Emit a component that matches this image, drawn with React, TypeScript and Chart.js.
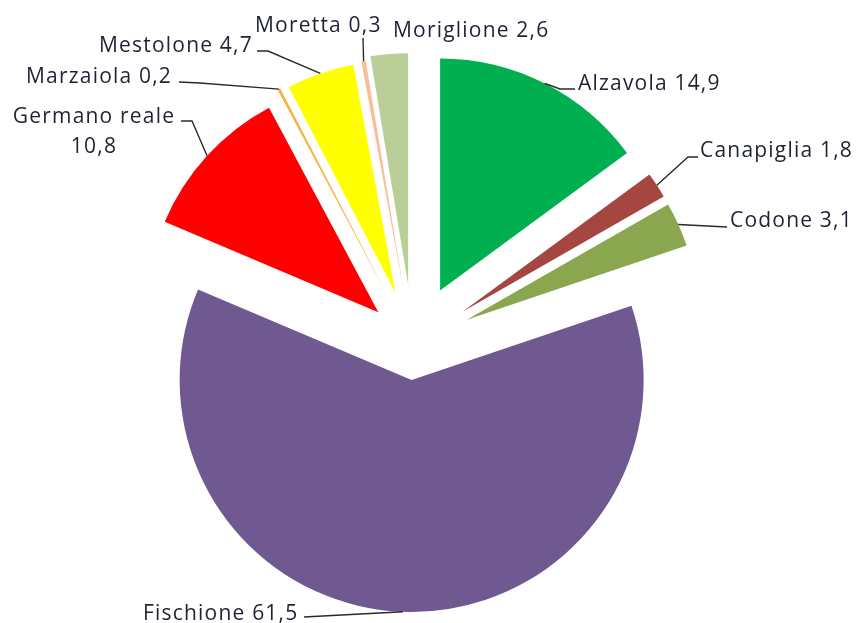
import React, { useEffect, useRef } from "react";
import { Chart, registerables } from "chart.js";

Chart.register(...registerables);

// ---- data ----
const categories = [
  "Alzavola",
  "Canapiglia",
  "Codone",
  "Fischione",
  "Germano reale",
  "Marzaiola",
  "Mestolone",
  "Moretta",
  "Moriglione",
];
const values = [14.9, 1.8, 3.1, 61.5, 10.8, 0.2, 4.7, 0.3, 2.6];

// ---- styles ----
const colors = [
  "#00B050",
  "#A64641",
  "#8AA64F",
  "#705891",
  "#FF0000",
  "#F9B13A",
  "#FFFF00",
  "#F9BE98",
  "#BACF98",
];
// explosion distance of each slice (px)
const explode = [60, 59, 59, 36, 47, 56, 54, 55, 59];

// label layout: text anchor (x, baseline y, align) and leader bend points (ending at text)
const labelLayout = [
  { x: 578, y: 90, align: "left", leader: [[560, 89], [575, 89]] },
  { x: 700, y: 157, align: "left", leader: [[688, 157], [698, 157]] },
  { x: 730, y: 227, align: "left", leader: [[727, 227]] },
  { x: 143, y: 620, align: "left", leader: [[304, 617]] },
  { x: 94, y: 123, align: "center", split: true, leader: [[192, 121], [181, 121]] },
  { x: 26, y: 83, align: "left", leader: [[200, 83], [179, 82]] },
  { x: 99, y: 52, align: "left", leader: [[268, 51], [257, 51]] },
  { x: 255, y: 32, align: "left", leader: [[363, 38]] },
  { x: 393, y: 37, align: "left", leader: null },
];

const FONT = "21px 'Open Sans'";
const LETTER_SPACING = "1.2px";
const TEXT_COLOR = "#1E2235";

const fmt = (v: number) => v.toFixed(1).replace(".", ",");

const explodePlugin = {
  id: "explodeSlices",
  beforeDatasetDraw(chart: any, args: any) {
    const ctx = chart.ctx;
    const meta = args.meta;
    meta.data.forEach((el: any, i: number) => {
      const mid = (el.startAngle + el.endAngle) / 2;
      const d = explode[i] || 0;
      ctx.save();
      ctx.translate(Math.cos(mid) * d, Math.sin(mid) * d);
      el.draw(ctx, chart.chartArea);
      ctx.restore();
    });
    return false;
  },
  afterDatasetsDraw(chart: any) {
    const ctx = chart.ctx;
    const meta = chart.getDatasetMeta(0);
    ctx.save();
    ctx.font = FONT;
    (ctx as any).letterSpacing = LETTER_SPACING;
    ctx.fillStyle = TEXT_COLOR;
    meta.data.forEach((el: any, i: number) => {
      const L = labelLayout[i];
      const mid = (el.startAngle + el.endAngle) / 2;
      const d = explode[i] || 0;
      const R = el.outerRadius;
      const sx = el.x + Math.cos(mid) * (d + R);
      const sy = el.y + Math.sin(mid) * (d + R);
      if (L.leader) {
        ctx.beginPath();
        ctx.strokeStyle = "#2a2a2a";
        ctx.lineWidth = 1.4;
        ctx.moveTo(sx, sy);
        L.leader.forEach((p: number[]) => ctx.lineTo(p[0], p[1]));
        ctx.stroke();
      }
      ctx.textAlign = L.align as CanvasTextAlign;
      ctx.textBaseline = "alphabetic";
      if (L.split) {
        ctx.fillText(categories[i], L.x, L.y);
        ctx.fillText(fmt(values[i]), L.x, L.y + 30);
      } else {
        ctx.fillText(categories[i] + " " + fmt(values[i]), L.x, L.y);
      }
    });
    ctx.restore();
  },
};

export default function App() {
  const ref = useRef<HTMLCanvasElement>(null);
  useEffect(() => {
    if (!ref.current) return;
    const chart = new Chart(ref.current, {
      type: "pie",
      data: {
        labels: categories,
        datasets: [
          {
            data: values,
            backgroundColor: colors,
            borderWidth: 0,
          },
        ],
      },
      options: {
        responsive: false,
        animation: false,
        layout: { padding: { left: 181, right: 211, top: 112, bottom: 47 } },
        plugins: {
          legend: { display: false },
          tooltip: { enabled: false },
        },
        events: [],
      },
      plugins: [explodePlugin],
    } as any);
    return () => chart.destroy();
  }, []);
  return (
    <div style={{ position: "fixed", left: 0, top: 0, width: 856, height: 623, background: "#fff" }}>
      <canvas ref={ref} width={856} height={623} />
    </div>
  );
}
